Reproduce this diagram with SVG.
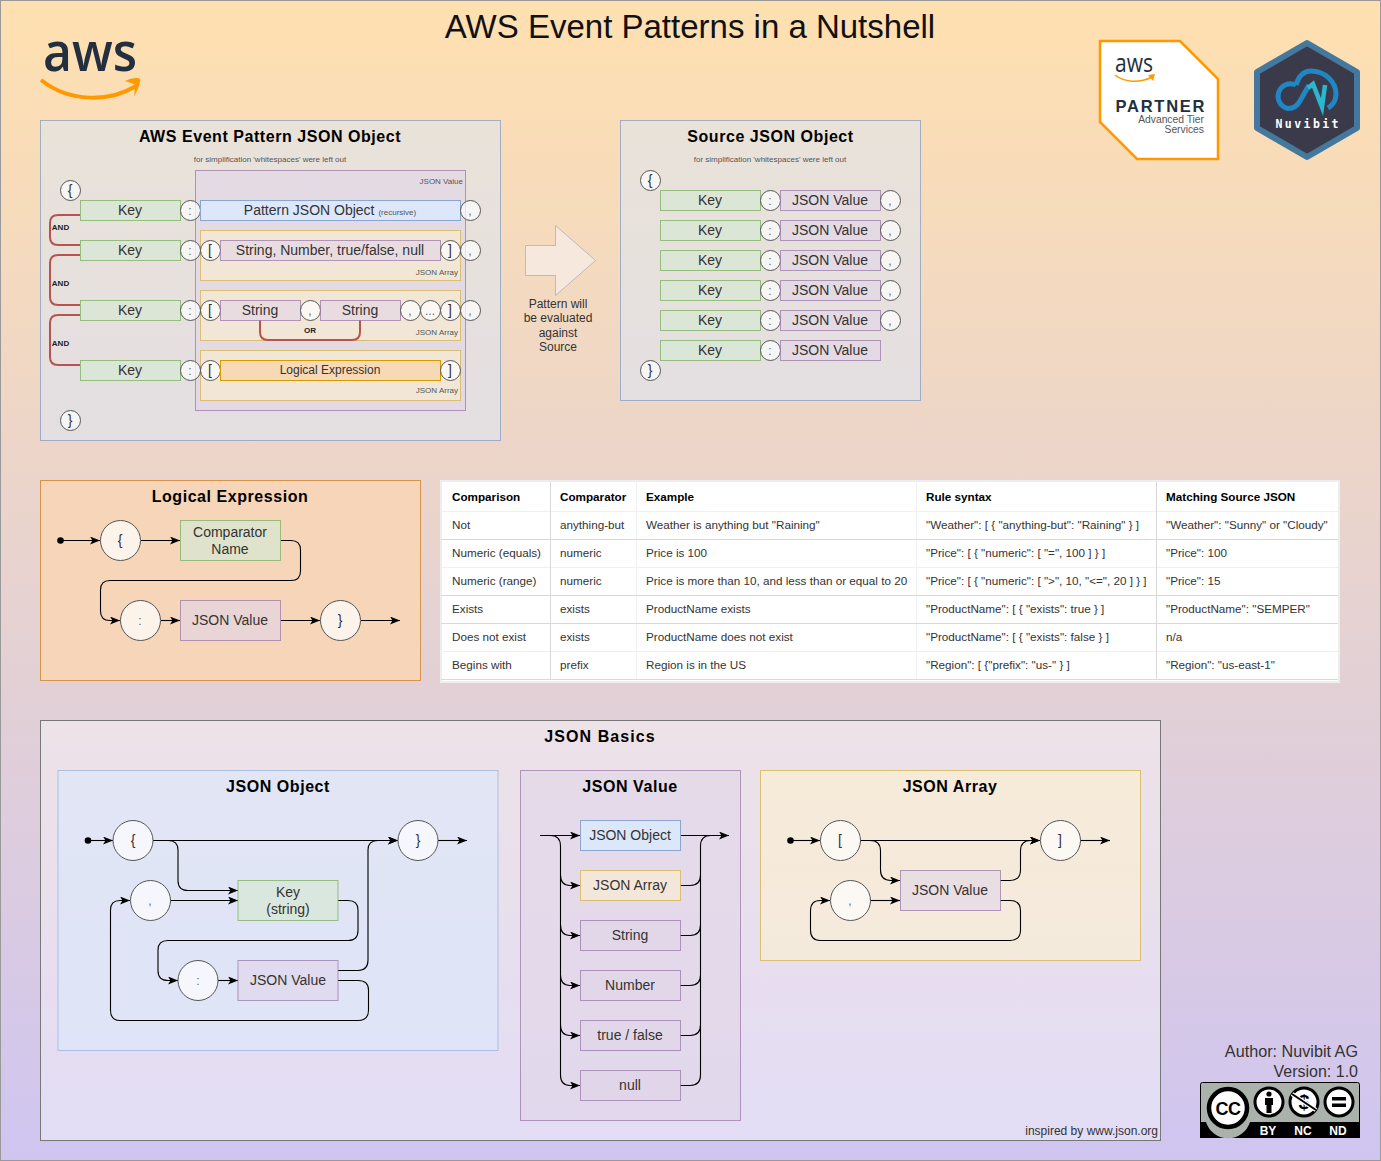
<svg xmlns="http://www.w3.org/2000/svg" width="1381" height="1161" viewBox="0 0 1381 1161">
<defs>
<linearGradient id="bg" x1="0" y1="0" x2="0" y2="1"><stop offset="0" stop-color="#ffe0b0"/><stop offset="1" stop-color="#cfc5f0"/></linearGradient>
<marker id="arr" viewBox="0 0 10 8" refX="10" refY="4" markerWidth="10" markerHeight="8" markerUnits="userSpaceOnUse" orient="auto"><path d="M0,0L10,4L0,8L2.5,4Z" fill="#000"/></marker>
</defs>
<style>
text{font-family:"Liberation Sans",Arial,sans-serif;text-anchor:middle;fill:#333}
.title{font-size:16px;font-weight:bold;fill:#000;letter-spacing:.55px}
.t14{font-size:14px}.t12{font-size:12px}.t8{font-size:8px;fill:#555}
.p{font-size:12px;fill:#666}
.lr{text-anchor:end}.l{text-anchor:start}
.and{font-size:8px;font-weight:bold;fill:#222}
.blue{fill:#dae8fc;stroke:#6c8ebf;fill-opacity:.5;stroke-opacity:.6}
.blue2{fill:#dae8fc;stroke:#8aa6d0;fill-opacity:.9}
.green{fill:#d5e8d4;stroke:#82b366;fill-opacity:.7;stroke-opacity:.8}
.purple{fill:#e1d5e7;stroke:#9673a6;fill-opacity:.6;stroke-opacity:.7}
.yellow{fill:#fff2cc;stroke:#d6b656;fill-opacity:.55;stroke-opacity:.8}
.orange{fill:#f8d9b5;stroke:#d79b00}
.orangep{fill:#f6d5b8;stroke:#d6934a}
.c{fill:#fff;fill-opacity:.7;stroke:#555}
.w{fill:none;stroke:#000;stroke-width:1.1;stroke-linejoin:round}
.a{marker-end:url(#arr)}
.red{fill:none;stroke:#b85450;stroke-width:2}
.th{font-size:11.7px;font-weight:bold;fill:#000;text-anchor:start}
.td{font-size:11.7px;fill:#333;text-anchor:start}
</style>
<rect x=".5" y=".5" width="1380" height="1160" fill="url(#bg)" stroke="#999"/>
<text x="690" y="38" font-size="33" style="fill:#111">AWS Event Patterns in a Nutshell</text>

<g id="aws-logo">
<text x="90" y="71" style="font-family:'Open Sans',sans-serif;font-size:55px;font-weight:600;fill:#232f3e" textLength="94" lengthAdjust="spacingAndGlyphs">aws</text>
<path d="M41,80C70,103 110,102 136,86" fill="none" stroke="#f90" stroke-width="4"/>
<path d="M125,81C131,78 138,77 140,79C141,82 137,92 134,96C135,90 135,86 134,84Z" fill="#f90"/>
</g>
<g id="partner-badge">
<path d="M1100,41H1180L1218,79V159H1137L1100,122Z" fill="#fff" stroke="#f90" stroke-width="2.5"/>
<text x="1134" y="72" style="font-family:'Open Sans',sans-serif;font-size:25px;font-weight:500;fill:#232f3e" textLength="38" lengthAdjust="spacingAndGlyphs">aws</text>
<path d="M1115,75C1125,83 1140,83 1152,77" fill="none" stroke="#f90" stroke-width="1.6"/>
<path d="M1148,75L1155,74L1153,81Z" fill="#f90"/>
<text x="1160" y="112" style="font-size:16.5px;font-weight:bold;fill:#232f3e" textLength="89">PARTNER</text>
<text x="1204" y="123" class="lr" style="font-size:10.3px;fill:#555">Advanced Tier</text>
<text x="1204" y="133" class="lr" style="font-size:10.3px;fill:#555">Services</text>
</g>
<g id="nuvibit-logo">
<path d="M1307,43L1357,72V128L1307,157L1257,128V72Z" fill="#3b3a4a" stroke="#44789e" stroke-width="6" stroke-linejoin="round"/>
<path d="M1296,85A12.500,12.500 0 1 0 1288,108.500Q1296,108.500 1300,101L1309,85" fill="none" stroke="#2186c4" stroke-width="5"/>
<path d="M1296,85C1299,75 1304,71 1311,71C1325,71 1336,82 1336,94C1336,100 1333,105 1328,108" fill="none" stroke="#2186c4" stroke-width="5"/>
<path d="M1308,88L1313,84L1322,107L1325,85" fill="none" stroke="#29b8d0" stroke-width="4.500"/>
<text x="1307" y="128" style="font-family:'DejaVu Sans Mono',monospace;font-size:11.500px;font-weight:bold;fill:#fff" textLength="63">Nuvibit</text>
</g>

<g id="pattern-panel">
<rect x="40.500" y="120.500" width="460" height="320" class="blue"/>
<text x="270" y="142" class="title">AWS Event Pattern JSON Object</text>
<text x="270" y="162" class="t8">for simplification 'whitespaces' were left out</text>
<rect x="195.500" y="170.500" width="270" height="240" class="purple"/>
<text x="463" y="184" class="t8 lr">JSON Value</text>
<rect x="200.500" y="230.500" width="260" height="50" class="yellow"/>
<text x="458" y="275" class="t8 lr">JSON Array</text>
<rect x="200.500" y="290.500" width="260" height="50" class="yellow"/>
<text x="458" y="335" class="t8 lr">JSON Array</text>
<rect x="200.500" y="350.500" width="260" height="50" class="yellow"/>
<text x="458" y="393" class="t8 lr">JSON Array</text>
</g>
<g id="connectors-pattern">
<path class="red" d="M80,215H58Q50,215 50,223V237Q50,245 58,245H80"/>
<path class="red" d="M80,255H58Q50,255 50,263V297Q50,305 58,305H80"/>
<path class="red" d="M80,315H58Q50,315 50,323V357Q50,365 58,365H80"/>
<path class="red" d="M260,320V332Q260,340 268,340H352Q360,340 360,332V320"/>
<text x="60.500" y="230" class="and">AND</text>
<text x="60.500" y="286" class="and">AND</text>
<text x="60.500" y="346" class="and">AND</text>
<text x="310" y="333" class="and">OR</text>
</g>
<g id="p-open"><circle cx="70.500" cy="190.500" r="10" class="c"/><text x="70" y="195" class="t14">{</text></g>
<g id="p-close"><circle cx="70.500" cy="420.500" r="10" class="c"/><text x="70" y="425" class="t14">}</text></g>
<g id="p-key1"><rect x="80.500" y="200.500" width="100" height="20" class="green"/><text x="130" y="215" class="t14">Key</text></g>
<g id="p-key2"><rect x="80.500" y="240.500" width="100" height="20" class="green"/><text x="130" y="255" class="t14">Key</text></g>
<g id="p-key3"><rect x="80.500" y="300.500" width="100" height="20" class="green"/><text x="130" y="315" class="t14">Key</text></g>
<g id="p-key4"><rect x="80.500" y="360.500" width="100" height="20" class="green"/><text x="130" y="375" class="t14">Key</text></g>
<g id="p-col1"><circle cx="190.500" cy="210.500" r="10" class="c"/><text x="190" y="215" class="p">:</text></g>
<g id="p-col2"><circle cx="190.500" cy="250.500" r="10" class="c"/><text x="190" y="255" class="p">:</text></g>
<g id="p-col3"><circle cx="190.500" cy="310.500" r="10" class="c"/><text x="190" y="315" class="p">:</text></g>
<g id="p-col4"><circle cx="190.500" cy="370.500" r="10" class="c"/><text x="190" y="375" class="p">:</text></g>
<g id="p-pattern"><rect x="200.500" y="200.500" width="260" height="20" class="blue2"/><text x="330" y="215"><tspan class="t14">Pattern JSON Object </tspan><tspan class="t8">(recursive)</tspan></text></g>
<g id="p-c1"><circle cx="470.500" cy="210.500" r="10" class="c"/><text x="470" y="215" class="p">,</text></g>
<g id="p-b1"><circle cx="210.500" cy="250.500" r="10" class="c"/><text x="210" y="255" class="t14">[</text></g>
<g id="p-s1"><rect x="220.500" y="240.500" width="220" height="20" class="purple"/><text x="330" y="255" class="t14">String, Number, true/false, null</text></g>
<g id="p-e1"><circle cx="450.500" cy="250.500" r="10" class="c"/><text x="450" y="255" class="t14">]</text></g>
<g id="p-c2"><circle cx="470.500" cy="250.500" r="10" class="c"/><text x="470" y="255" class="p">,</text></g>
<g id="p-b2"><circle cx="210.500" cy="310.500" r="10" class="c"/><text x="210" y="315" class="t14">[</text></g>
<g id="p-s2"><rect x="220.500" y="300.500" width="80" height="20" class="purple"/><text x="260" y="315" class="t14">String</text></g>
<g id="p-c3"><circle cx="310.500" cy="310.500" r="10" class="c"/><text x="310" y="315" class="p">,</text></g>
<g id="p-s3"><rect x="320.500" y="300.500" width="80" height="20" class="purple"/><text x="360" y="315" class="t14">String</text></g>
<g id="p-c4"><circle cx="410.500" cy="310.500" r="10" class="c"/><text x="410" y="315" class="p">,</text></g>
<g id="p-dots"><circle cx="430.500" cy="310.500" r="10" class="c"/><text x="430" y="315" class="p">...</text></g>
<g id="p-e2"><circle cx="450.500" cy="310.500" r="10" class="c"/><text x="450" y="315" class="t14">]</text></g>
<g id="p-c5"><circle cx="470.500" cy="310.500" r="10" class="c"/><text x="470" y="315" class="p">,</text></g>
<g id="p-b3"><circle cx="210.500" cy="370.500" r="10" class="c"/><text x="210" y="375" class="t14">[</text></g>
<g id="p-logical"><rect x="220.500" y="360.500" width="220" height="20" class="orange"/><text x="330" y="374" class="t12">Logical Expression</text></g>
<g id="p-e3"><circle cx="450.500" cy="370.500" r="10" class="c"/><text x="450" y="375" class="t14">]</text></g>

<g id="eval-arrow">
<path d="M525.500,245.500H555.500V225.500L595.500,260.500L555.500,295.500V275.500H525.500Z" fill="#f6e8dc" stroke="#bbb"/>
<text x="558" y="308" class="t12">Pattern will</text>
<text x="558" y="322" class="t12">be evaluated</text>
<text x="558" y="337" class="t12">against</text>
<text x="558" y="351" class="t12">Source</text>
</g>

<g id="source-panel">
<rect x="620.500" y="120.500" width="300" height="280" class="blue"/>
<text x="770.500" y="142" class="title">Source JSON Object</text>
<text x="770" y="162" class="t8">for simplification 'whitespaces' were left out</text>
</g>
<g id="s-open"><circle cx="650.500" cy="180.500" r="10" class="c"/><text x="650" y="185" class="t14">{</text></g>
<g id="s-close"><circle cx="650.500" cy="370.500" r="10" class="c"/><text x="650" y="375" class="t14">}</text></g>
<g id="s-row1"><rect x="660.500" y="190.500" width="100" height="20" class="green"/><text x="710" y="205" class="t14">Key</text><circle cx="770.500" cy="200.500" r="10" class="c"/><text x="770" y="205" class="p">:</text><rect x="780.500" y="190.500" width="100" height="20" class="purple"/><text x="830" y="205" class="t14">JSON Value</text><circle cx="890.500" cy="200.500" r="10" class="c"/><text x="890" y="205" class="p">,</text></g>
<g id="s-row2"><rect x="660.500" y="220.500" width="100" height="20" class="green"/><text x="710" y="235" class="t14">Key</text><circle cx="770.500" cy="230.500" r="10" class="c"/><text x="770" y="235" class="p">:</text><rect x="780.500" y="220.500" width="100" height="20" class="purple"/><text x="830" y="235" class="t14">JSON Value</text><circle cx="890.500" cy="230.500" r="10" class="c"/><text x="890" y="235" class="p">,</text></g>
<g id="s-row3"><rect x="660.500" y="250.500" width="100" height="20" class="green"/><text x="710" y="265" class="t14">Key</text><circle cx="770.500" cy="260.500" r="10" class="c"/><text x="770" y="265" class="p">:</text><rect x="780.500" y="250.500" width="100" height="20" class="purple"/><text x="830" y="265" class="t14">JSON Value</text><circle cx="890.500" cy="260.500" r="10" class="c"/><text x="890" y="265" class="p">,</text></g>
<g id="s-row4"><rect x="660.500" y="280.500" width="100" height="20" class="green"/><text x="710" y="295" class="t14">Key</text><circle cx="770.500" cy="290.500" r="10" class="c"/><text x="770" y="295" class="p">:</text><rect x="780.500" y="280.500" width="100" height="20" class="purple"/><text x="830" y="295" class="t14">JSON Value</text><circle cx="890.500" cy="290.500" r="10" class="c"/><text x="890" y="295" class="p">,</text></g>
<g id="s-row5"><rect x="660.500" y="310.500" width="100" height="20" class="green"/><text x="710" y="325" class="t14">Key</text><circle cx="770.500" cy="320.500" r="10" class="c"/><text x="770" y="325" class="p">:</text><rect x="780.500" y="310.500" width="100" height="20" class="purple"/><text x="830" y="325" class="t14">JSON Value</text><circle cx="890.500" cy="320.500" r="10" class="c"/><text x="890" y="325" class="p">,</text></g>
<g id="s-row6"><rect x="660.500" y="340.500" width="100" height="20" class="green"/><text x="710" y="355" class="t14">Key</text><circle cx="770.500" cy="350.500" r="10" class="c"/><text x="770" y="355" class="p">:</text><rect x="780.500" y="340.500" width="100" height="20" class="purple"/><text x="830" y="355" class="t14">JSON Value</text></g>

<g id="logical-panel">
<rect x="40.500" y="480.500" width="380" height="200" class="orangep"/>
<text x="230" y="502" class="title">Logical Expression</text>
</g>
<g id="connectors-logical">
<circle cx="60.500" cy="540.500" r="3.300" fill="#000"/>
<path class="w a" d="M60,540.500H100"/>
<path class="w a" d="M141,540.500H180"/>
<path class="w a" d="M281,540.500H291Q300.500,540.500 300.500,550V571Q300.500,580.500 291,580.500H110Q100.500,580.500 100.500,590V611Q100.500,620.500 110,620.500H120"/>
<path class="w a" d="M161,620.500H180"/>
<path class="w a" d="M281,620.500H320"/>
<path class="w a" d="M361,620.500H400"/>
</g>
<g id="l-open"><circle cx="120.500" cy="540.500" r="20" class="c"/><text x="120" y="545" class="t14">{</text></g>
<g id="l-name"><rect x="180.500" y="520.500" width="100" height="40" class="green"/><text x="230" y="537" class="t14">Comparator</text><text x="230" y="554" class="t14">Name</text></g>
<g id="l-colon"><circle cx="140.500" cy="620.500" r="20" class="c"/><text x="140" y="625" class="p">:</text></g>
<g id="l-value"><rect x="180.500" y="600.500" width="100" height="40" class="purple"/><text x="230" y="625" class="t14">JSON Value</text></g>
<g id="l-close"><circle cx="340.500" cy="620.500" r="20" class="c"/><text x="340" y="625" class="t14">}</text></g>

<g id="comparison-table">
<rect x="441" y="481" width="898" height="201" fill="#fff" stroke="#eee" stroke-width="2"/>
<path fill="none" stroke="#f0f0f0" d="M441,511.500H1338M441,567.500H1338M441,651.500H1338M636.500,482V680M916.500,482V680"/>
<path fill="none" stroke="#d8d8d8" d="M441,539.500H1338M441,595.500H1338M441,623.500H1338M441,679.500H1338M550.500,482V680M1156.500,482V680"/>
<text x="452" y="501" class="th">Comparison</text><text x="560" y="501" class="th">Comparator</text><text x="646" y="501" class="th">Example</text><text x="926" y="501" class="th">Rule syntax</text><text x="1166" y="501" class="th">Matching Source JSON</text>
<text x="452" y="529" class="td">Not</text><text x="560" y="529" class="td">anything-but</text><text x="646" y="529" class="td">Weather is anything but "Raining"</text><text x="926" y="529" class="td">"Weather": [ { "anything-but": "Raining" } ]</text><text x="1166" y="529" class="td">"Weather": "Sunny" or "Cloudy"</text>
<text x="452" y="557" class="td">Numeric (equals)</text><text x="560" y="557" class="td">numeric</text><text x="646" y="557" class="td">Price is 100</text><text x="926" y="557" class="td">"Price": [ { "numeric": [ "=", 100 ] } ]</text><text x="1166" y="557" class="td">"Price": 100</text>
<text x="452" y="585" class="td">Numeric (range)</text><text x="560" y="585" class="td">numeric</text><text x="646" y="585" class="td">Price is more than 10, and less than or equal to 20</text><text x="926" y="585" class="td">"Price": [ { "numeric": [ "&gt;", 10, "&lt;=", 20 ] } ]</text><text x="1166" y="585" class="td">"Price": 15</text>
<text x="452" y="613" class="td">Exists</text><text x="560" y="613" class="td">exists</text><text x="646" y="613" class="td">ProductName exists</text><text x="926" y="613" class="td">"ProductName": [ { "exists": true } ]</text><text x="1166" y="613" class="td">"ProductName": "SEMPER"</text>
<text x="452" y="641" class="td">Does not exist</text><text x="560" y="641" class="td">exists</text><text x="646" y="641" class="td">ProductName does not exist</text><text x="926" y="641" class="td">"ProductName": [ { "exists": false } ]</text><text x="1166" y="641" class="td">n/a</text>
<text x="452" y="669" class="td">Begins with</text><text x="560" y="669" class="td">prefix</text><text x="646" y="669" class="td">Region is in the US</text><text x="926" y="669" class="td">"Region": [ {"prefix": "us-" } ]</text><text x="1166" y="669" class="td">"Region": "us-east-1"</text>
</g>

<g id="basics-panel">
<rect x="40.500" y="720.500" width="1120" height="420" fill="#fff" fill-opacity=".4" stroke="#777"/>
<text x="600" y="742" class="title" style="letter-spacing:1.1px">JSON Basics</text>
<text x="1158" y="1135" class="t12 lr">inspired by www.json.org</text>
<rect x="58" y="770.500" width="440" height="280" fill="#dae8fc" fill-opacity=".6" stroke="#a9bfe4"/>
<text x="278" y="792" class="title">JSON Object</text>
<rect x="520.500" y="770.500" width="220" height="350" class="purple"/>
<text x="630" y="792" class="title">JSON Value</text>
<rect x="760.500" y="770.500" width="380" height="190" class="yellow"/>
<text x="950" y="792" class="title">JSON Array</text>
</g>
<g id="connectors-object">
<circle cx="88" cy="840.500" r="3.300" fill="#000"/>
<path class="w a" d="M88,840.500H113"/>
<path class="w a" d="M153,840.500H398"/>
<path class="w a" d="M168,840.500Q178,840.500 178,850V880.500Q178,890.500 188,890.500H238"/>
<path class="w a" d="M170,900.500H238"/>
<path class="w a" d="M338,900.500H348Q358,900.500 358,910V930.500Q358,940.500 348,940.500H168Q158,940.500 158,950V970.500Q158,980.500 168,980.500H178"/>
<path class="w a" d="M218,980.500H238"/>
<path class="w a" d="M338,970.500H358Q368,970.500 368,960V850Q368,840.500 378,840.500H398"/>
<path class="w a" d="M338,980.500H358Q368.500,980.500 368.500,990V1010Q368.500,1020.500 358,1020.500H120Q110.500,1020.500 110.500,1010V910Q110.500,900.500 120,900.500H130"/>
<path class="w a" d="M438,840.500H467"/>
</g>
<g id="o-open"><circle cx="133" cy="840.500" r="20" class="c"/><text x="133" y="845" class="t14">{</text></g>
<g id="o-close"><circle cx="418" cy="840.500" r="20" class="c"/><text x="418" y="845" class="t14">}</text></g>
<g id="o-comma"><circle cx="150.500" cy="900.500" r="20" class="c"/><text x="150" y="905" class="p">,</text></g>
<g id="o-key"><rect x="238" y="880.500" width="100" height="40" class="green"/><text x="288" y="897" class="t14">Key</text><text x="288" y="914" class="t14">(string)</text></g>
<g id="o-colon"><circle cx="198" cy="980.500" r="20" class="c"/><text x="198" y="985" class="p">:</text></g>
<g id="o-value"><rect x="238" y="960.500" width="100" height="40" class="purple"/><text x="288" y="985" class="t14">JSON Value</text></g>

<g id="connectors-value">
<path class="w a" d="M540,835.500H580"/>
<path class="w a" d="M680,835.500H729"/>
<path class="w" d="M550,835.500Q560.500,835.500 560.500,846V1075"/>
<path class="w a" d="M560.500,875Q560.500,885.500 570,885.500H580"/>
<path class="w a" d="M560.500,925Q560.500,935.500 570,935.500H580"/>
<path class="w a" d="M560.500,975Q560.500,985.500 570,985.500H580"/>
<path class="w a" d="M560.500,1025Q560.500,1035.500 570,1035.500H580"/>
<path class="w a" d="M560.500,1075Q560.500,1085.500 570,1085.500H580"/>
<path class="w" d="M680,1085.500H690Q700.500,1085.500 700.500,1075V846Q700.500,835.500 711,835.500"/>
<path class="w" d="M680,885.500H690Q700.500,885.500 700.500,875M680,935.500H690Q700.500,935.500 700.500,925M680,985.500H690Q700.500,985.500 700.500,975M680,1035.500H690Q700.500,1035.500 700.500,1025"/>
</g>
<g id="v-object"><rect x="580.500" y="820.500" width="100" height="30" class="blue2"/><text x="630" y="840" class="t14">JSON Object</text></g>
<g id="v-array"><rect x="580.500" y="870.500" width="100" height="30" class="yellow"/><text x="630" y="890" class="t14">JSON Array</text></g>
<g id="v-string"><rect x="580.500" y="920.500" width="100" height="30" class="purple"/><text x="630" y="940" class="t14">String</text></g>
<g id="v-number"><rect x="580.500" y="970.500" width="100" height="30" class="purple"/><text x="630" y="990" class="t14">Number</text></g>
<g id="v-bool"><rect x="580.500" y="1020.500" width="100" height="30" class="purple"/><text x="630" y="1040" class="t14">true / false</text></g>
<g id="v-null"><rect x="580.500" y="1070.500" width="100" height="30" class="purple"/><text x="630" y="1090" class="t14">null</text></g>

<g id="connectors-array">
<circle cx="790.500" cy="840.500" r="3.300" fill="#000"/>
<path class="w a" d="M790,840.500H820"/>
<path class="w a" d="M860,840.500H1040"/>
<path class="w a" d="M870,840.500Q880.500,840.500 880.500,851V870Q880.500,880.500 891,880.500H900"/>
<path class="w a" d="M870,900.500H900"/>
<path class="w a" d="M1000,880.500H1010Q1020.500,880.500 1020.500,870V851Q1020.500,840.500 1031,840.500H1040"/>
<path class="w a" d="M1000,900.500H1010Q1020.500,900.500 1020.500,911V930Q1020.500,940.500 1010,940.500H820Q810.500,940.500 810.500,930V911Q810.500,900.500 820,900.500H830"/>
<path class="w a" d="M1080,840.500H1110"/>
</g>
<g id="a-open"><circle cx="840.500" cy="840.500" r="20" class="c"/><text x="840" y="845" class="t14">[</text></g>
<g id="a-close"><circle cx="1060.500" cy="840.500" r="20" class="c"/><text x="1060" y="845" class="t14">]</text></g>
<g id="a-comma"><circle cx="850.500" cy="900.500" r="20" class="c"/><text x="850" y="905" class="p">,</text></g>
<g id="a-value"><rect x="900.500" y="870.500" width="100" height="40" class="purple"/><text x="950" y="895" class="t14">JSON Value</text></g>

<g id="credits">
<text x="1358" y="1057" class="lr" style="font-size:16.200px">Author: Nuvibit AG</text>
<text x="1358" y="1077" class="lr" style="font-size:16px">Version: 1.0</text>
<rect x="1200.500" y="1082.500" width="159" height="55" rx="2" fill="#aab2ab" stroke="#000"/>
<rect x="1200" y="1122" width="160" height="16" fill="#000"/>
<path d="M1206,1122A23,23 0 0 0 1250,1122Z" fill="#aab2ab"/>
<circle cx="1228" cy="1108" r="19" fill="#fff" stroke="#000" stroke-width="4.500"/>
<text x="1228" y="1114.500" style="font-size:18px;font-weight:bold;fill:#000;letter-spacing:-.5px">CC</text>
<circle cx="1269" cy="1102" r="14" fill="#fff" stroke="#000" stroke-width="3"/>
<circle cx="1269" cy="1094" r="2.600" fill="#000"/>
<path d="M1265,1098H1273V1105H1271.500V1113H1266.500V1105H1265Z" fill="#000"/>
<circle cx="1304" cy="1102" r="14" fill="#fff" stroke="#000" stroke-width="3"/>
<text x="1304" y="1109" style="font-size:20px;font-weight:bold;fill:#000">$</text>
<path d="M1292,1094L1316,1110" stroke="#fff" stroke-width="4.500"/>
<path d="M1292,1094L1316,1110" stroke="#000" stroke-width="2"/>
<circle cx="1339" cy="1102" r="14" fill="#fff" stroke="#000" stroke-width="3"/>
<rect x="1332" y="1097" width="14" height="3.500" fill="#000"/>
<rect x="1332" y="1103.500" width="14" height="3.500" fill="#000"/>
<text x="1268" y="1135" style="font-size:12px;font-weight:bold;fill:#fff">BY</text>
<text x="1303" y="1135" style="font-size:12px;font-weight:bold;fill:#fff">NC</text>
<text x="1338" y="1135" style="font-size:12px;font-weight:bold;fill:#fff">ND</text>
</g>
</svg>
